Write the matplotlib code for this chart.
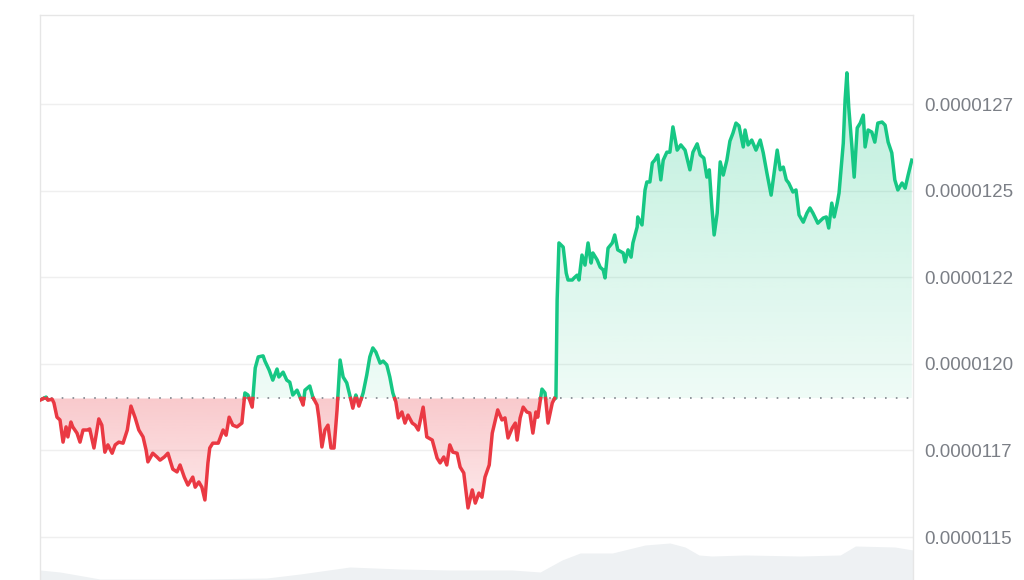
import numpy as np
import matplotlib
matplotlib.use("Agg")
import matplotlib.pyplot as plt
import matplotlib.colors as mcolors
from matplotlib.path import Path
from matplotlib.patches import PathPatch

# price over one day, time in minutes, price in units of 1e-8
t_min = [0, 10, 13, 20, 23, 28, 33, 38, 43, 46, 51, 54, 61, 66, 71, 78, 82, 89, 94, 97,
         102, 107, 112, 119, 124, 130, 137, 144, 150, 157, 163, 170, 175, 178, 186, 193, 198,
         205, 211, 219, 226, 231, 238, 244, 252, 256, 262, 267, 272, 277, 280, 285, 294, 302,
         307, 312, 318, 325, 333, 338, 343, 350, 355, 360, 368, 371, 378, 384, 391, 394, 401,
         407, 412, 417, 424, 429, 434, 437, 445, 450, 457, 460, 465, 470, 475, 480, 485, 490,
         495, 500, 506, 511, 516, 521, 526, 533, 539, 544, 549, 554, 561, 566, 572, 577, 582,
         587, 591, 597, 602, 607, 614, 619, 624, 632, 638, 647, 655, 660, 666, 671, 676, 681,
         688, 693, 699, 706, 713, 718, 724, 729, 734, 741, 746, 751, 755, 762, 767, 772, 779,
         784, 787, 792, 797, 803, 808, 813, 818, 821, 828, 833, 838, 845, 849, 851, 853, 856,
         863, 868, 871, 878, 881, 886, 889, 894, 899, 904, 909, 912, 919, 924, 929, 932, 937,
         944, 948, 953, 962, 965, 970, 975, 978, 985, 986, 993, 998, 1001, 1006, 1010, 1014,
         1019, 1024, 1028, 1034, 1039, 1044, 1051, 1057, 1064, 1072, 1077, 1084, 1089, 1095,
         1100, 1104, 1108, 1112, 1117, 1122, 1127, 1133, 1138, 1143, 1148, 1153, 1160, 1163,
         1168, 1174, 1181, 1188, 1193, 1199, 1206, 1211, 1216, 1221, 1226, 1231, 1235, 1242,
         1247, 1252, 1259, 1265, 1270, 1275, 1283, 1292, 1297, 1301, 1306, 1310, 1315, 1318,
         1325, 1328, 1331, 1334, 1339, 1343, 1348, 1353, 1358, 1361, 1366, 1372, 1377, 1382,
         1389, 1394, 1399, 1405, 1410, 1415, 1422, 1427, 1432, 1438]
price_e8 = [1189.5, 1190.4, 1189.5, 1189.8, 1188.7, 1184.6, 1183.8, 1177.4, 1181.8, 1178.9,
            1183.2, 1181.8, 1180.0, 1177.4, 1180.9, 1180.9, 1181.2, 1175.7, 1180.9, 1184.1,
            1182.3, 1174.5, 1176.6, 1174.2, 1176.6, 1177.4, 1177.1, 1180.9, 1187.8, 1184.4,
            1180.9, 1178.9, 1175.1, 1171.7, 1174.2, 1173.1, 1172.2, 1173.1, 1174.2, 1169.6,
            1168.8, 1170.8, 1167.3, 1165.0, 1167.3, 1164.4, 1165.9, 1164.4, 1160.7, 1171.4,
            1175.7, 1177.1, 1177.1, 1180.9, 1179.4, 1184.6, 1182.3, 1181.8, 1182.9, 1191.6,
            1191.0, 1187.5, 1198.8, 1202.0, 1202.3, 1200.8, 1198.2, 1195.3, 1198.5, 1196.2,
            1197.6, 1195.3, 1194.7, 1191.0, 1192.4, 1190.4, 1188.1, 1192.4, 1193.6, 1190.4,
            1188.1, 1184.4, 1176.0, 1180.9, 1182.3, 1175.7, 1175.7, 1186.7, 1201.1, 1196.2,
            1194.5, 1191.0, 1187.2, 1191.0, 1187.8, 1191.6, 1196.8, 1202.0, 1204.6, 1203.4,
            1200.2, 1200.8, 1199.7, 1196.2, 1191.6, 1189.0, 1184.4, 1186.1, 1182.9, 1185.2,
            1182.9, 1182.3, 1180.9, 1187.5, 1178.9, 1178.0, 1172.8, 1171.4, 1173.1, 1170.8,
            1176.6, 1174.5, 1174.2, 1170.2, 1168.5, 1158.4, 1163.6, 1159.8, 1162.7, 1161.5,
            1167.3, 1170.8, 1180.0, 1183.8, 1186.7, 1183.8, 1184.4, 1178.6, 1181.5, 1182.9,
            1178.0, 1184.4, 1187.5, 1186.1, 1185.8, 1180.0, 1186.1, 1184.6, 1192.7, 1191.6,
            1182.9, 1188.7, 1190.1, 1190.1, 1218.4, 1234.9, 1233.7, 1226.2, 1224.2, 1224.2,
            1224.8, 1225.6, 1224.2, 1231.4, 1228.5, 1234.9, 1229.1, 1232.0, 1230.0, 1227.9,
            1227.1, 1224.8, 1233.4, 1234.9, 1237.2, 1232.9, 1232.0, 1229.4, 1232.9, 1230.8,
            1234.9, 1239.5, 1242.4, 1240.1, 1250.2, 1252.5, 1252.5, 1258.0, 1258.8, 1260.3,
            1253.1, 1258.8, 1261.1, 1261.1, 1268.4, 1261.7, 1263.2, 1261.7, 1256.0, 1261.1,
            1263.5, 1260.3, 1259.4, 1253.9, 1256.0, 1245.8, 1237.2, 1243.5, 1258.3, 1254.5,
            1258.8, 1264.3, 1266.6, 1269.5, 1268.7, 1262.6, 1267.5, 1263.2, 1264.6, 1261.7,
            1264.6, 1260.9, 1255.1, 1248.7, 1255.1, 1261.7, 1256.0, 1256.8, 1253.1, 1252.2,
            1249.6, 1250.2, 1243.0, 1240.9, 1243.5, 1245.0, 1243.5, 1240.6, 1242.1, 1242.4,
            1239.2, 1246.4, 1242.4, 1246.4, 1249.3, 1263.7, 1276.2, 1284.0, 1274.1, 1263.2,
            1253.9, 1268.1, 1269.5, 1271.8, 1262.6, 1267.5, 1266.9, 1264.0, 1269.5, 1269.8,
            1268.9, 1264.0, 1260.9, 1253.1, 1250.2, 1252.2, 1250.7, 1254.5, 1258.8]
open_e8 = 1190.0

# volume (arbitrary units)
vol_t = [0, 33, 71, 99, 264, 374, 429, 511, 594, 676, 779, 825, 861, 891, 944, 998, 1039,
         1064, 1087, 1108, 1163, 1254, 1320, 1345, 1410, 1440]
vol = [10, 8, 4, 1, 1, 2, 6, 13, 11, 10, 10, 8, 20, 27, 27, 35, 37, 33, 25, 24, 25, 24, 25,
       34, 33, 30]

tick_vals_e8 = [1150, 1175, 1200, 1225, 1250, 1275]
tick_labels = ["0.0000115", "0.0000117", "0.0000120", "0.0000122", "0.0000125", "0.0000127"]

GREEN = "#16c784"
RED = "#ea3943"

t = np.array(t_min, dtype=float)
p = np.array(price_e8) * 1e-8
base = open_e8 * 1e-8
y_lo, y_hi = 1137.6e-8, 1300.7e-8

# add crossing points so the colour switch happens exactly at the open line
tt, pp = [t[0]], [p[0]]
for i in range(1, len(t)):
    a, b = p[i - 1] - base, p[i] - base
    if a * b < 0:
        tc = t[i - 1] + (t[i] - t[i - 1]) * a / (a - b)
        tt.append(tc)
        pp.append(base)
    tt.append(t[i])
    pp.append(p[i])
tt, pp = np.array(tt), np.array(pp)

fig = plt.figure(figsize=(10.24, 5.8), dpi=100)
plt.rcParams['font.family'] = ['Liberation Sans', 'DejaVu Sans']

x0, w = 40 / 1024, 873 / 1024

# volume strip at the bottom
vax = fig.add_axes([x0, 0, w, 50 / 580], zorder=0)
vax.fill_between(vol_t, vol, 0, color="#eef1f3", lw=0)
vax.set_xlim(0, 1440)
vax.set_ylim(0, 50)
vax.axis("off")

ax = fig.add_axes([x0, 0, w, 565 / 580], zorder=1)
ax.set_facecolor("none")


def gradient_fill(mask, color, y_a, y_b, a_a, a_b):
    coll = ax.fill_between(tt, pp, base, where=mask, interpolate=True,
                           facecolor="none", edgecolor="none")
    path = Path.make_compound_path(*coll.get_paths())
    clip = PathPatch(path, transform=ax.transData, facecolor="none", edgecolor="none")
    ax.add_patch(clip)
    grad = np.zeros((256, 1, 4))
    grad[:, :, :3] = mcolors.to_rgb(color)
    grad[:, 0, 3] = np.linspace(a_b, a_a, 256)
    im = ax.imshow(grad, aspect="auto", origin="lower",
                   extent=[0, 1440, min(y_a, y_b), max(y_a, y_b)], zorder=1)
    im.set_clip_path(clip)


gradient_fill(pp >= base, GREEN, y_hi, base, 0.32, 0.07)
gradient_fill(pp <= base, RED, base, 1155e-8, 0.27, 0.1)

up = np.where(pp >= base, pp, np.nan)
down = np.where(pp <= base, pp, np.nan)
ax.plot(tt, up, color=GREEN, lw=2.5, zorder=3, solid_joinstyle="round")
ax.plot(tt, down, color=RED, lw=2.5, zorder=3, solid_joinstyle="round")

ax.axhline(base, color="#7f848c", lw=1.2, ls=(0, (1, 5.5)), zorder=2)

ax.set_xlim(0, 1440)
ax.set_ylim(y_lo, y_hi)
ax.set_xticks([])
ax.set_yticks([v * 1e-8 for v in tick_vals_e8])
ax.set_yticklabels(tick_labels)
ax.yaxis.tick_right()
ax.tick_params(axis="y", length=0, pad=8, labelsize=13.5, labelcolor="#7b7f86")
ax.grid(axis="y", color="#efefef", lw=1)
ax.set_axisbelow(True)

for side in ["top", "left", "right"]:
    ax.spines[side].set_color("#e6e6e6")
    ax.spines[side].set_linewidth(1)
ax.spines["bottom"].set_visible(False)

fig.savefig("out.png", dpi=100)
